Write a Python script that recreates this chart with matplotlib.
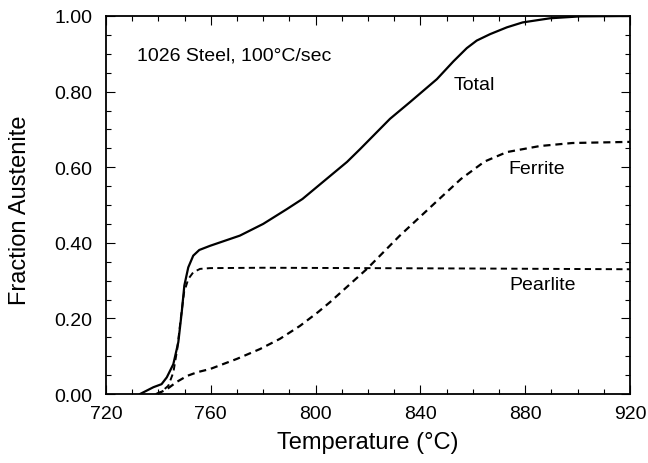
import numpy as np
import matplotlib
matplotlib.use('Agg')
import matplotlib.pyplot as plt
from matplotlib.ticker import MultipleLocator, FormatStrFormatter

plt.rcParams['font.family'] = ['Liberation Sans', 'DejaVu Sans']

# austenite fraction vs temperature, 1026 steel heated at 100 C/s
total_T = [733.0, 738.1, 741.2, 743.2, 745.7, 747.6, 748.9, 749.9, 751.4, 753.3, 755.6,
           759.7, 763.5, 771.1, 780.0, 789.0, 795.0, 802.8, 812.0, 817.0, 828.4, 836.0,
           846.3, 852.6, 857.7, 861.5, 866.6, 873.0, 879.0, 889.5, 901.0, 920.0]
total_f = [0.0, 0.018, 0.026, 0.044, 0.079, 0.137, 0.216, 0.287, 0.335, 0.366, 0.381,
           0.392, 0.401, 0.419, 0.450, 0.489, 0.516, 0.561, 0.614, 0.648, 0.728, 0.772,
           0.833, 0.880, 0.915, 0.935, 0.952, 0.970, 0.983, 0.994, 0.999, 1.0]

ferrite_T = [739.5, 743.3, 747.0, 751.0, 755.0, 759.7, 770.0, 778.8, 786.4, 794.0, 801.0,
             805.5, 819.6, 832.0, 845.5, 855.5, 864.5, 873.0, 885.6, 898.0, 920.0]
ferrite_f = [0.0, 0.013, 0.032, 0.048, 0.058, 0.066, 0.093, 0.119, 0.146, 0.180, 0.217,
             0.243, 0.331, 0.418, 0.505, 0.569, 0.615, 0.640, 0.656, 0.664, 0.667]

pearlite_T = [739.0, 741.2, 743.8, 745.7, 747.2, 748.5, 749.8, 751.4, 753.3, 755.9, 759.7,
              780.0, 820.0, 860.0, 920.0]
pearlite_f = [0.0, 0.006, 0.022, 0.057, 0.119, 0.198, 0.269, 0.304, 0.322, 0.331, 0.333,
              0.334, 0.333, 0.332, 0.330]

W, H = 648, 464
fig = plt.figure(figsize=(W / 100, H / 100), dpi=100)
ax = fig.add_axes([106 / W, 1 - 395 / H, 524 / W, 378 / H])

ax.plot(total_T, total_f, color='black', lw=1.6)
ax.plot(ferrite_T, ferrite_f, color='black', lw=1.6, linestyle=(0, (3.2, 2.2)))
ax.plot(pearlite_T, pearlite_f, color='black', lw=1.4, linestyle=(0, (3.2, 2.2)))

ax.set_xlim(720, 920)
ax.set_ylim(0, 1.0)
ax.xaxis.set_major_locator(MultipleLocator(40))
ax.xaxis.set_minor_locator(MultipleLocator(10))
ax.yaxis.set_major_locator(MultipleLocator(0.2))
ax.yaxis.set_minor_locator(MultipleLocator(0.05))
ax.yaxis.set_major_formatter(FormatStrFormatter('%.2f'))

ax.tick_params(which='both', direction='in', top=True, right=True, width=0.8)
ax.tick_params(which='major', length=6.5, labelsize=14)
ax.tick_params(axis='x', which='major', pad=8)
ax.tick_params(axis='y', which='major', pad=10)
ax.tick_params(which='minor', length=3.6)
for s in ax.spines.values():
    s.set_linewidth(1.3)


def px(x, y):
    # pixel position (from top-left) to figure fraction
    return x / W, 1 - y / H


fig.text(*px(367.5, 449), 'Temperature (°C)', fontsize=17, ha='center', va='baseline')
fig.text(*px(20, 210), 'Fraction Austenite', fontsize=17, rotation=90,
         ha='center', va='center')

fig.text(*px(137, 56), '1026 Steel, 100°C/sec', fontsize=14, ha='left', va='center')
fig.text(*px(474, 85), 'Total', fontsize=14, ha='center', va='center')
fig.text(*px(537, 170), 'Ferrite', fontsize=14, ha='center', va='center')
fig.text(*px(543, 286), 'Pearlite', fontsize=14, ha='center', va='center')

fig.savefig('out.png', dpi=100)
